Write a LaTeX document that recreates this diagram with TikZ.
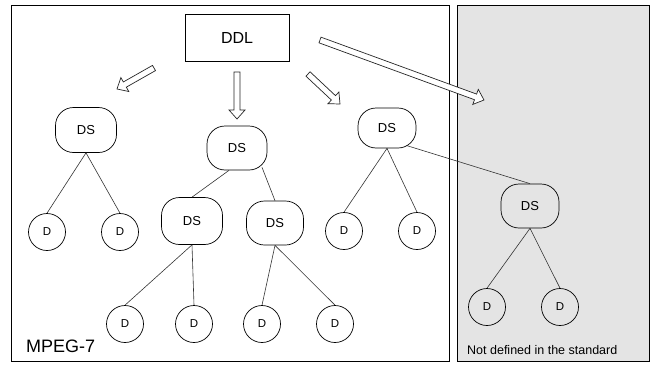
\documentclass[tikz,border=0pt]{standalone}
\usepackage{fontspec}
\setmainfont{Liberation Sans}
\usetikzlibrary{calc}

% hollow block arrow from #1 to #2 (shaft half-width 3pt, head 8pt wide, 9pt long)
\newcommand\blockarrow[2]{%
  \path[hollow] let \p1=(#1), \p2=(#2),
      \n1={atan2(\y2-\y1,\x2-\x1)}, \n2={veclen(\x2-\x1,\y2-\y1)} in
    [shift={(\p1)}, rotate=\n1]
    (0pt,3pt) -- ({\n2-9pt},3pt) -- ({\n2-9pt},8pt) -- ({\n2*1pt},0pt)
    -- ({\n2-9pt},-8pt) -- ({\n2-9pt},-3pt) -- (0pt,-3pt) -- cycle;}

\begin{document}
\begin{tikzpicture}[x=1pt,y=-1pt,
  panel/.style={draw=black, line width=0.8pt},
  ddlbox/.style={draw, line width=0.8pt, minimum width=104pt, minimum height=47pt,
    inner sep=0pt, font=\fontsize{16}{16}\selectfont},
  dsnode/.style={draw, rounded corners=18pt, line width=0.7pt, inner sep=0pt,
    minimum width=60pt, minimum height=44pt, font=\fontsize{13}{13}\selectfont},
  dnode/.style={draw, circle, line width=0.7pt, minimum size=37pt, inner sep=0pt,
    font=\fontsize{11.5}{11.5}\selectfont},
  link/.style={draw=black!80, line width=0.6pt},
  hollow/.style={draw=black!85, fill=white, line width=0.7pt, line join=miter}
]
\useasboundingbox (0,0) rectangle (652,364);
\fill[white] (0,0) rectangle (652,364);

% the two panels
\draw[panel, fill=white] (11.5,5) rectangle (449,361);
\draw[panel, fill={rgb,255:red,228;green,228;blue,228}] (457,5) rectangle (649,361);

% description definition language
\node[ddlbox] (ddl) at (237,37.5) {DDL};

% description schemes
\node[dsnode, minimum width=61pt, minimum height=45pt] (ds1) at (86,130) {DS};
\node[dsnode] (ds2) at (237,148) {DS};
\node[dsnode, minimum width=58pt, minimum height=40pt] (ds3) at (387,128) {DS};
\node[dsnode, minimum width=61pt, minimum height=47pt] (ds4) at (192,221) {DS};
\node[dsnode, minimum width=57pt] (ds5) at (275,223) {DS};
\node[dsnode, minimum width=58pt] (ds6) at (530,206) {DS};

% descriptors
\node[dnode] (d1) at (47,232) {D};
\node[dnode] (d2) at (120,232) {D};
\node[dnode] (d3) at (125,324) {D};
\node[dnode] (d4) at (194,324) {D};
\node[dnode] (d5) at (262,324) {D};
\node[dnode] (d6) at (335,324) {D};
\node[dnode] (d7) at (344,231) {D};
\node[dnode] (d8) at (417,231) {D};
\node[dnode] (d9) at (487,307) {D};
\node[dnode] (d10) at (560,307) {D};

% tree links
\draw[link] (ds1.south) -- (d1.north);
\draw[link] (ds1.south) -- (d2.north);
\draw[link] ($(ds2.south)+(-8,0)$) -- (ds4.north);
\draw[link] ($(ds2.south)+(25,-3)$) -- (ds5.north);
\draw[link] (ds4.south) -- (d3.north);
\draw[link] (ds4.south) -- (d4.north);
\draw[link] (ds5.south) -- (d5.north);
\draw[link] (ds5.south) -- (d6.north);
\draw[link] (ds3.south) -- (d7.north);
\draw[link] (ds3.south) -- (d8.north);
\draw[link] ($(ds3.south)+(19,-3)$) -- (ds6.north);
\draw[link] (ds6.south) -- (d9.north);
\draw[link] (ds6.south) -- (d10.north);

% arrows out of the DDL
\coordinate (a1s) at (154,68);  \coordinate (a1e) at (117,89);
\coordinate (a2s) at (237,72);  \coordinate (a2e) at (237,119);
\coordinate (a3s) at (308,74);  \coordinate (a3e) at (340,104);
\coordinate (a4s) at (320,40);  \coordinate (a4e) at (484,100);
\blockarrow{a1s}{a1e}
\blockarrow{a2s}{a2e}
\blockarrow{a3s}{a3e}
\blockarrow{a4s}{a4e}

% panel captions
\node[anchor=base west, inner sep=0pt, font=\fontsize{18}{18}\selectfont] (mpeg) at (26,352) {MPEG-7};
\node[anchor=base west, inner sep=0pt, font=\fontsize{12.5}{12.5}\selectfont] (nds) at (467,354) {Not defined in the standard};
\end{tikzpicture}
\end{document}
